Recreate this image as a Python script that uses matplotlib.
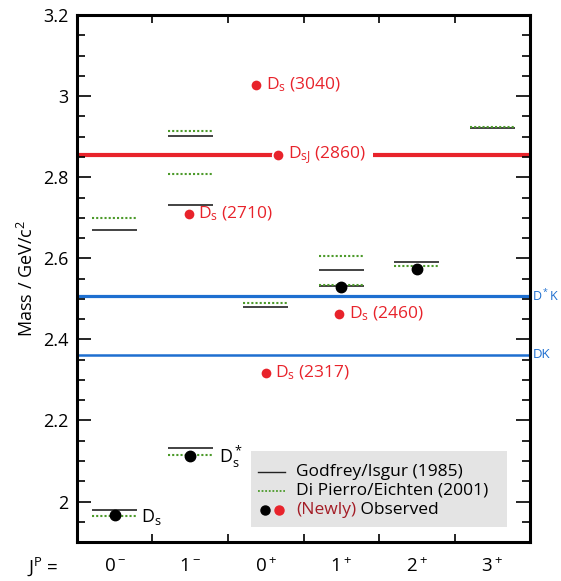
import matplotlib
matplotlib.use('Agg')
import matplotlib.pyplot as plt
from matplotlib.patches import Rectangle
from matplotlib.ticker import MultipleLocator, FormatStrFormatter
from matplotlib.transforms import blended_transform_factory

plt.rcParams['font.family'] = ['Open Sans', 'DejaVu Sans']
plt.rcParams['mathtext.default'] = 'regular'

# Cac nhom J^P
nhom = ['0$^-$', '1$^-$', '0$^+$', '1$^+$', '2$^+$', '3$^+$']

# Du doan Godfrey/Isgur (duong den)
gi_cot = [0, 0, 1, 1, 1, 2, 3, 3, 4, 5]
gi_khoi = [1.980, 2.670, 2.131, 2.731, 2.901, 2.481, 2.531, 2.570, 2.590, 2.922]

# Du doan Di Pierro/Eichten (duong cham xanh)
dpe_cot = [0, 0, 1, 1, 1, 2, 3, 3, 4, 5]
dpe_khoi = [1.965, 2.699, 2.114, 2.809, 2.914, 2.489, 2.533, 2.605, 2.582, 2.923]

# Trang thai da quan sat (den)
obs_x = [0.5, 1.5, 3.5, 4.5]
obs_khoi = [1.966, 2.113, 2.530, 2.573]

# Trang thai moi quan sat (do)
moi_x = [2.5, 3.47, 1.48, 2.37, 2.66]
moi_khoi = [2.318, 2.463, 2.709, 3.027, 2.855]
moi_nhan = ['D$_s$ (2317)', 'D$_s$ (2460)', 'D$_s$ (2710)', 'D$_s$ (3040)', 'D$_{sJ}$ (2860)']

# Nguong
nguong_DsJ = 2.855
nguong_DstarK = 2.506
nguong_DK = 2.362

do = '#e8232b'
xanh = '#1e6fd0'
xanh_la = '#4c9a2a'

fig = plt.figure(figsize=(5.61, 5.81), dpi=100)
ax = fig.add_axes([0.137, 0.067, 0.808, 0.907])
ax.set_xlim(0, 6)
ax.set_ylim(1.9, 3.2)

# duong nguong
ax.axhline(nguong_DsJ, color=do, lw=3, zorder=1)
ax.axhline(nguong_DstarK, color=xanh, lw=2.3, zorder=1)
ax.axhline(nguong_DK, color=xanh, lw=1.8, zorder=1)

# cac muc du doan
w = 0.3
for c, m in zip(gi_cot, gi_khoi):
    ax.hlines(m, c + 0.5 - w, c + 0.5 + w, color='#222222', lw=1.2, zorder=2)
for c, m in zip(dpe_cot, dpe_khoi):
    ax.hlines(m, c + 0.5 - w, c + 0.5 + w, color=xanh_la, lw=1.5, linestyles=(0, (1, 1)), zorder=3)

ax.plot(obs_x, obs_khoi, 'o', color='black', ms=7.5, zorder=6)
ax.plot(moi_x, moi_khoi, 'o', color=do, ms=7, mec='white', mew=2.5, zorder=6)
ax.plot(moi_x, moi_khoi, 'o', color=do, ms=7, mew=0, zorder=7)

for x, m, s in zip(moi_x, moi_khoi, moi_nhan):
    kw = {}
    if 'sJ' in s:
        kw['bbox'] = dict(boxstyle='square,pad=0.45', fc='white', ec='none')
    ax.annotate(s, (x, m), xytext=(7, 0), textcoords='offset points', color=do,
                fontsize=12.5, va='center', ha='left', zorder=5, **kw)

ax.annotate('D$_s$', (obs_x[0], obs_khoi[0]), xytext=(19, -1), textcoords='offset points',
            fontsize=13, va='center')
ax.annotate('D$_s^*$', (obs_x[1], obs_khoi[1]), xytext=(21, -1), textcoords='offset points',
            fontsize=13, va='center')

# nhan nguong ben phai
tr = blended_transform_factory(ax.transAxes, ax.transData)
ax.text(1.005, nguong_DstarK, 'D$^*$K', transform=tr, color=xanh, fontsize=9, va='center')
ax.text(1.005, nguong_DK, 'DK', transform=tr, color=xanh, fontsize=9.5, va='center')

# truc
for sp in ax.spines.values():
    sp.set_linewidth(2.2)
ax.xaxis.set_major_locator(MultipleLocator(1))
ax.set_xticks([i + 0.5 for i in range(len(nhom))], nhom, minor=True)
ax.tick_params(axis='x', which='major', direction='in', top=True, length=6, width=1.2,
               labelbottom=False)
ax.tick_params(axis='x', which='minor', length=0, labelsize=13.5, pad=11)
ax.yaxis.set_major_locator(MultipleLocator(0.2))
ax.yaxis.set_minor_locator(MultipleLocator(0.05))
ax.yaxis.set_major_formatter(FormatStrFormatter('%g'))
ax.tick_params(axis='y', which='major', direction='in', right=True, length=10, width=1.2,
               labelsize=13, pad=6)
ax.tick_params(axis='y', which='minor', direction='in', right=True, length=6, width=1.2)
ax.set_ylabel('Mass / GeV/c$^2$', fontsize=13, labelpad=4)
ax.text(-0.075, -0.046, 'J$^P$ =', transform=ax.transAxes, fontsize=13.5, ha='center', va='center')

# chu giai
ax.add_patch(Rectangle((0.384, 0.028), 0.565, 0.145, transform=ax.transAxes,
                       fc='#e4e4e4', ec='none', zorder=8))
ax.plot([0.399, 0.459], [0.133, 0.133], color='#222222', lw=1.0, transform=ax.transAxes, zorder=9)
ax.plot([0.399, 0.459], [0.097, 0.097], color=xanh_la, lw=1.3, ls=(0, (1, 1)),
        transform=ax.transAxes, zorder=9)
ax.plot([0.415], [0.061], 'o', color='black', ms=6.5, transform=ax.transAxes, zorder=9)
ax.plot([0.446], [0.061], 'o', color=do, ms=6.5, transform=ax.transAxes, zorder=9)
ax.text(0.484, 0.133, 'Godfrey/Isgur (1985)', transform=ax.transAxes, fontsize=12.5,
        va='center', zorder=9)
ax.text(0.484, 0.097, 'Di Pierro/Eichten (2001)', transform=ax.transAxes, fontsize=12.5,
        va='center', zorder=9)
t = ax.text(0.484, 0.061, '(Newly)', transform=ax.transAxes, fontsize=12.5, color='#a31c25',
            va='center', zorder=9)
ax.annotate(' Observed', xy=(1, 0.5), xycoords=t, fontsize=12.5, va='center', zorder=9)

fig.savefig('out.png', dpi=100)
